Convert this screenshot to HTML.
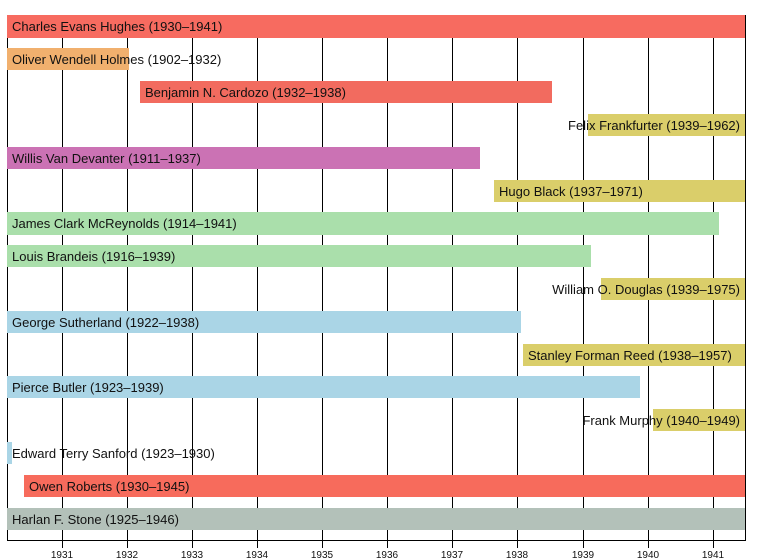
<!DOCTYPE html>
<html><head><meta charset="utf-8"><style>
html,body{margin:0;padding:0;background:#fff;}
svg{display:block;font-family:"Liberation Sans",sans-serif;}
text{font-size:13px;fill:#111;}
</style></head><body>
<svg width="775" height="560" xmlns="http://www.w3.org/2000/svg">
<g stroke="#000" stroke-width="1">
<line x1="62.5" y1="15" x2="62.5" y2="548"/>
<line x1="127.5" y1="15" x2="127.5" y2="548"/>
<line x1="192.5" y1="15" x2="192.5" y2="548"/>
<line x1="257.5" y1="15" x2="257.5" y2="548"/>
<line x1="322.5" y1="15" x2="322.5" y2="548"/>
<line x1="387.5" y1="15" x2="387.5" y2="548"/>
<line x1="452.5" y1="15" x2="452.5" y2="548"/>
<line x1="517.5" y1="15" x2="517.5" y2="548"/>
<line x1="583.5" y1="15" x2="583.5" y2="548"/>
<line x1="648.5" y1="15" x2="648.5" y2="548"/>
<line x1="713.5" y1="15" x2="713.5" y2="548"/>
<line x1="7.5" y1="15" x2="7.5" y2="540.5"/>
<line x1="745.5" y1="15" x2="745.5" y2="540.5"/>
<line x1="7" y1="540.5" x2="746" y2="540.5"/>
</g>
<g>
<rect x="7" y="15" width="738" height="23" fill="#f76b60"/>
<rect x="7" y="48" width="122" height="22" fill="#f1b06e"/>
<rect x="140" y="81" width="412" height="22" fill="#f26b5f"/>
<rect x="588" y="114" width="157" height="22" fill="#dace6a"/>
<rect x="7" y="147" width="473" height="22" fill="#cb72b4"/>
<rect x="494" y="180" width="251" height="22" fill="#dace6a"/>
<rect x="7" y="212" width="712" height="23" fill="#aadfab"/>
<rect x="7" y="245" width="584" height="22" fill="#aadfab"/>
<rect x="601" y="278" width="144" height="22" fill="#dace6a"/>
<rect x="7" y="311" width="514" height="22" fill="#aad5e6"/>
<rect x="523" y="344" width="222" height="22" fill="#dace6a"/>
<rect x="7" y="376" width="633" height="22" fill="#aad5e6"/>
<rect x="653" y="409" width="92" height="22" fill="#dace6a"/>
<rect x="7" y="442" width="5" height="22" fill="#aad5e6"/>
<rect x="24" y="475" width="721" height="22" fill="#f76b5c"/>
<rect x="7" y="508" width="738" height="22" fill="#b3c1b9"/>
</g>
<g>
<text x="12" y="31">Charles Evans Hughes (1930–1941)</text>
<text x="12" y="64">Oliver Wendell Holmes (1902–1932)</text>
<text x="145" y="97">Benjamin N. Cardozo (1932–1938)</text>
<text x="740" y="130" text-anchor="end">Felix Frankfurter (1939–1962)</text>
<text x="12" y="163">Willis Van Devanter (1911–1937)</text>
<text x="499" y="196">Hugo Black (1937–1971)</text>
<text x="12" y="228">James Clark McReynolds (1914–1941)</text>
<text x="12" y="261">Louis Brandeis (1916–1939)</text>
<text x="740" y="294" text-anchor="end">William O. Douglas (1939–1975)</text>
<text x="12" y="327">George Sutherland (1922–1938)</text>
<text x="528" y="360">Stanley Forman Reed (1938–1957)</text>
<text x="12" y="392">Pierce Butler (1923–1939)</text>
<text x="740" y="425" text-anchor="end">Frank Murphy (1940–1949)</text>
<text x="12" y="458">Edward Terry Sanford (1923–1930)</text>
<text x="29" y="491">Owen Roberts (1930–1945)</text>
<text x="12" y="524">Harlan F. Stone (1925–1946)</text>
</g>
<g text-anchor="middle">
<text x="62" y="558" style="font-size:10px">1931</text>
<text x="127" y="558" style="font-size:10px">1932</text>
<text x="192" y="558" style="font-size:10px">1933</text>
<text x="257" y="558" style="font-size:10px">1934</text>
<text x="322" y="558" style="font-size:10px">1935</text>
<text x="387" y="558" style="font-size:10px">1936</text>
<text x="452" y="558" style="font-size:10px">1937</text>
<text x="517" y="558" style="font-size:10px">1938</text>
<text x="583" y="558" style="font-size:10px">1939</text>
<text x="648" y="558" style="font-size:10px">1940</text>
<text x="713" y="558" style="font-size:10px">1941</text>
</g>
</svg>
</body></html>
